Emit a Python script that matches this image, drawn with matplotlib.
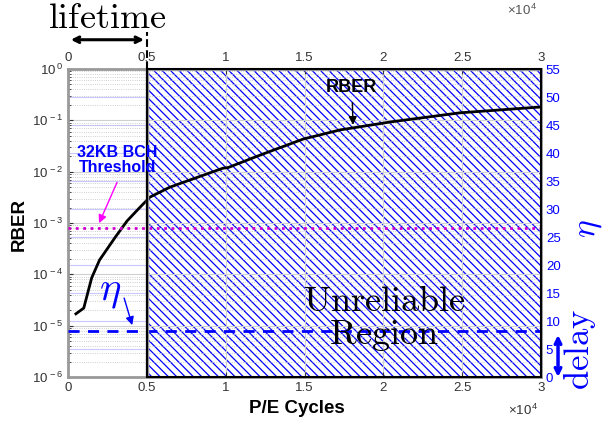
import numpy as np
import matplotlib
matplotlib.use('Agg')
import matplotlib.pyplot as plt
from matplotlib.patches import Rectangle
from matplotlib.ticker import FixedLocator, FuncFormatter, LogLocator, NullFormatter

plt.rcParams['font.family'] = ['Liberation Sans', 'DejaVu Sans']
plt.rcParams['mathtext.fontset'] = 'custom'
plt.rcParams['mathtext.rm'] = 'Liberation Sans'
plt.rcParams['mathtext.it'] = 'Liberation Sans:italic'
plt.rcParams['mathtext.bf'] = 'Liberation Sans:bold'
plt.rcParams['hatch.linewidth'] = 0.9

# RBER vs P/E cycles
pe_cycles = [500, 1000, 1500, 2000, 3000, 3750, 4550, 5200, 6470, 7740,
             9835, 10150, 12180, 14900, 17250, 20450, 24850, 29750, 30000]
rber = [1.7e-5, 2.2e-5, 8.5e-5, 1.9e-4, 5.3e-4, 1.1e-3, 2.0e-3, 3.2e-3,
        5.0e-3, 6.9e-3, 1.17e-2, 1.2e-2, 2.1e-2, 4.3e-2, 6.5e-2, 9.3e-2,
        0.14, 0.18, 0.181]

lifetime_end = 5000
bch_threshold = 7.9e-4
eta_level = 7.9e-6
delay_top = 8

x_ticks = [0, 5000, 10000, 15000, 20000, 25000, 30000]
x_labels = ['0', '0.5', '1', '1.5', '2', '2.5', '3']
eta_ticks = list(range(0, 56, 5))

fig = plt.figure(figsize=(6.1, 4.21), dpi=100)
ax = fig.add_axes([68/610, 44/421, 473/610, 308/421])
ax2 = ax.twinx()
ax.set_zorder(ax2.get_zorder() + 1)
ax.patch.set_visible(False)

# right axis (eta), drawn underneath
ax2.set_ylim(0, 55)
ax2.yaxis.set_major_locator(FixedLocator(eta_ticks))
ax2.tick_params(axis='y', colors='blue', direction='in', labelsize=9.5, length=4)
ax2.grid(True, axis='y', color='#c8c8ff', lw=0.8)
for s in ax2.spines.values():
    s.set_visible(False)
fig.text(589/610, 1 - 229/421, r'$\eta$', color='blue', fontsize=24,
         math_fontfamily='cm', rotation=90, ha='center', va='center')

# left axis (RBER)
ax.set_yscale('log')
ax.set_ylim(1e-6, 1)
ax.set_xlim(0, 30000)
ax.yaxis.set_major_locator(LogLocator(base=10, numticks=10))
ax.yaxis.set_minor_locator(LogLocator(base=10, subs=np.arange(2, 10), numticks=10))
ax.yaxis.set_minor_formatter(NullFormatter())
ax.yaxis.set_major_formatter(FuncFormatter(lambda v, p: r'$10^{\,%d}$' % round(np.log10(v))))
ax.xaxis.set_major_locator(FixedLocator(x_ticks))
ax.set_xticklabels(x_labels)
ax.tick_params(which='both', direction='in', labelsize=9.5, top=True,
               labeltop=True, colors='#333333')
ax.grid(True, which='major', color='#d0d0d0', lw=0.8)
ax.grid(True, which='minor', axis='y', color='#c0c0c0', lw=0.6, ls=':')
for s in ax.spines.values():
    s.set_color('#999999')
    s.set_linewidth(2)
ax.set_xlabel('P/E Cycles', fontsize=13.5, fontweight='bold')
ax.xaxis.set_label_coords(0.484, -0.075)
ax.set_ylabel('RBER', fontsize=13.5, fontweight='bold')
ax.yaxis.set_label_coords(-0.085, 0.494)

# unreliable (hatched) region
ax.add_patch(Rectangle((lifetime_end, 1e-6), 30000 - lifetime_end, 1 - 1e-6,
                       facecolor='white', edgecolor='blue', hatch='\\\\\\\\',
                       lw=0, zorder=0.2))
ax.add_patch(Rectangle((lifetime_end, 1e-6), 30000 - lifetime_end, 1 - 1e-6,
                       fill=False, edgecolor='black', lw=1.5, zorder=5,
                       clip_on=False))
ax.axvline(lifetime_end, color='#999999', lw=2.5, zorder=4)

ax.plot(pe_cycles, rber, color='black', lw=2, zorder=3)
ax.axhline(bch_threshold, color='#d000d0', lw=2, ls=':', zorder=3)
ax.axhline(eta_level, color='blue', lw=2, ls=(0, (4, 3)), zorder=3)

# lifetime marker on top
ax.plot([lifetime_end, lifetime_end], [1, 1.12], color='black', lw=1.5,
        ls='--', transform=ax.get_xaxis_transform(), clip_on=False)
ax.annotate('', xy=(0, 1.095), xytext=(lifetime_end, 1.095),
            xycoords=('data', 'axes fraction'), annotation_clip=False,
            arrowprops=dict(arrowstyle='<->', lw=2.2, color='black'))
fig.text(107/610, 1 - 19/421, r'$\mathrm{lifetime}$', fontsize=26,
         math_fontfamily='cm', ha='center', va='center')

# annotations
ax.text(0.104, 0.705, '32KB BCH\nThreshold', transform=ax.transAxes,
        color='blue', fontsize=11.5, fontweight='bold', ha='center', va='center',
        linespacing=0.95, zorder=7)
ax.annotate('', xy=(1900, bch_threshold * 1.12), xytext=(0.106, 0.64),
            textcoords='axes fraction',
            arrowprops=dict(arrowstyle='-|>', color='#ff00ff', lw=1,
                            mutation_scale=12))
ax.text(0.600, 0.94, 'RBER', transform=ax.transAxes, fontsize=13,
        fontweight='bold', ha='center', va='center', zorder=7)
ax.annotate('', xy=(18080, 0.072), xytext=(0.601, 0.9),
            textcoords='axes fraction',
            arrowprops=dict(arrowstyle='-|>', color='black', lw=1,
                            mutation_scale=12))
ax.text(0.088, 0.275, r'$\eta$', transform=ax.transAxes, color='blue',
        fontsize=29, math_fontfamily='cm', ha='center', va='center')
ax.annotate('', xy=(4124, eta_level * 1.15), xytext=(0.117, 0.265),
            textcoords='axes fraction',
            arrowprops=dict(arrowstyle='-|>', color='blue', lw=1,
                            mutation_scale=12))
ax.text(0.668, 0.19, r'$\mathrm{Unreliable}$' + '\n' + r'$\mathrm{Region}$',
        transform=ax.transAxes, fontsize=26, math_fontfamily='cm',
        ha='center', va='center', linespacing=0.9, zorder=7)

# delay arrow on the right axis
ax2.annotate('', xy=(1.036, -0.5), xytext=(1.036, delay_top),
             xycoords=('axes fraction', 'data'), annotation_clip=False,
             arrowprops=dict(arrowstyle='<->', lw=2.5, color='blue'))
fig.text(580/610, 1 - 349/421, r'$\mathrm{delay}$', fontsize=25,
         math_fontfamily='cm', color='blue', rotation=90,
         ha='center', va='center')

# x10^4 multipliers
fig.text(523/610, 1 - 410/421, r'$\times10^{\,4}$', fontsize=9.5,
         color='#333333', ha='center', va='center')
fig.text(522/610, 1 - 10/421, r'$\times10^{\,4}$', fontsize=9.5,
         color='#555555', ha='center', va='center')

fig.savefig('out.png', dpi=100, facecolor='white')
